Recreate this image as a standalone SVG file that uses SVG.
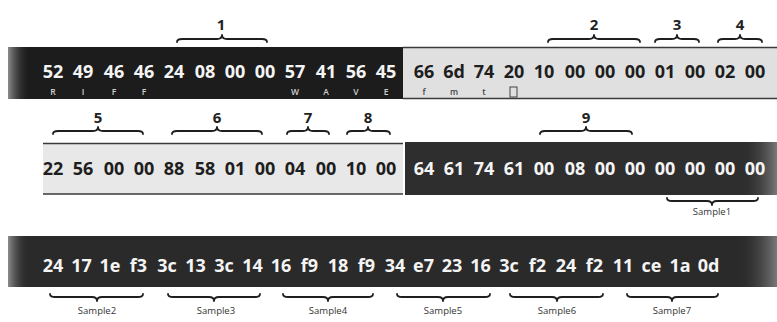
<svg xmlns="http://www.w3.org/2000/svg" width="777" height="322" viewBox="0 0 777 322">
<style>
text{font-family:"Open Sans","Liberation Sans",sans-serif;text-anchor:middle}
.hw{font-size:18px;font-weight:700;fill:#f4f4f4}
.hd{font-size:18px;font-weight:700;fill:#1e1e1e}
.smw{font-size:8.5px;font-weight:600;fill:#cfcfcf}
.smd{font-size:8.5px;font-weight:600;fill:#444}
.num{font-size:15px;font-weight:700;fill:#222}
.lab{font-size:9.5px;fill:#333}
.br{fill:none;stroke:#1e1e1e;stroke-width:1.8;stroke-linecap:round;stroke-linejoin:round}
.ln{stroke:#3a3a3a;stroke-width:1.5}
</style>
<defs>
<linearGradient id="gl" x1="0" y1="0" x2="1" y2="0">
<stop offset="0" stop-color="#8c8c8c"/><stop offset="1" stop-color="#1e1e1e" stop-opacity="0"/>
</linearGradient>
<linearGradient id="gr" x1="0" y1="0" x2="1" y2="0">
<stop offset="0" stop-color="#2e2e2e" stop-opacity="0"/><stop offset="1" stop-color="#7a7a7a"/>
</linearGradient>
</defs>
<rect width="777" height="322" fill="#ffffff"/>

<g id="row1">
<rect x="8" y="47" width="395" height="52" fill="#1c1c1c"/>
<rect x="8" y="47" width="22" height="52" fill="url(#gl)"/>
<rect x="403" y="47" width="374" height="52" fill="#e0e0e0"/>
<line class="ln" x1="403" y1="47.5" x2="777" y2="47.5"/>
<line class="ln" x1="403" y1="98.5" x2="777" y2="98.5"/>
<text class="hw" x="53" y="78">52</text><text class="hw" x="83" y="78">49</text><text class="hw" x="114" y="78">46</text><text class="hw" x="144" y="78">46</text>
<text class="hw" x="174" y="78">24</text><text class="hw" x="205" y="78">08</text><text class="hw" x="235" y="78">00</text><text class="hw" x="265" y="78">00</text>
<text class="hw" x="295" y="78">57</text><text class="hw" x="326" y="78">41</text><text class="hw" x="356" y="78">56</text><text class="hw" x="386" y="78">45</text>
<text class="hd" x="424" y="78">66</text><text class="hd" x="454" y="78">6d</text><text class="hd" x="484" y="78">74</text><text class="hd" x="514" y="78">20</text>
<text class="hd" x="544" y="78">10</text><text class="hd" x="575" y="78">00</text><text class="hd" x="605" y="78">00</text><text class="hd" x="635" y="78">00</text>
<text class="hd" x="665" y="78">01</text><text class="hd" x="695" y="78">00</text><text class="hd" x="725" y="78">02</text><text class="hd" x="755" y="78">00</text>
<text class="smw" x="53" y="95">R</text><text class="smw" x="83" y="95">I</text><text class="smw" x="114" y="95">F</text><text class="smw" x="144" y="95">F</text>
<text class="smw" x="295" y="95">W</text><text class="smw" x="326" y="95">A</text><text class="smw" x="356" y="95">V</text><text class="smw" x="386" y="95">E</text>
<text class="smd" x="424" y="95">f</text><text class="smd" x="454" y="95">m</text><text class="smd" x="484" y="95">t</text>
<rect x="510" y="87" width="7" height="10" fill="none" stroke="#444" stroke-width="1"/>
</g>

<g id="row2">
<rect x="43" y="143" width="360" height="51" fill="#e8e8e8"/>
<line class="ln" x1="43" y1="143.5" x2="403" y2="143.5"/>
<line class="ln" x1="43" y1="194" x2="403" y2="194"/>
<rect x="405" y="142" width="372" height="53" fill="#2e2e2e"/>
<rect x="742" y="142" width="35" height="53" fill="url(#gr)"/>
<text class="hd" x="53" y="175">22</text><text class="hd" x="83" y="175">56</text><text class="hd" x="114" y="175">00</text><text class="hd" x="144" y="175">00</text>
<text class="hd" x="174" y="175">88</text><text class="hd" x="205" y="175">58</text><text class="hd" x="235" y="175">01</text><text class="hd" x="265" y="175">00</text>
<text class="hd" x="295" y="175">04</text><text class="hd" x="326" y="175">00</text><text class="hd" x="356" y="175">10</text><text class="hd" x="386" y="175">00</text>
<text class="hw" x="424" y="175">64</text><text class="hw" x="454" y="175">61</text><text class="hw" x="484" y="175">74</text><text class="hw" x="514" y="175">61</text>
<text class="hw" x="544" y="175">00</text><text class="hw" x="575" y="175">08</text><text class="hw" x="605" y="175">00</text><text class="hw" x="635" y="175">00</text>
<text class="hw" x="665" y="175">00</text><text class="hw" x="695" y="175">00</text><text class="hw" x="725" y="175">00</text><text class="hw" x="755" y="175">00</text>
</g>

<g id="row3">
<rect x="8" y="236" width="769" height="51" fill="#2a2a2a"/>
<rect x="8" y="236" width="22" height="51" fill="url(#gl)"/>
<rect x="738" y="236" width="39" height="51" fill="url(#gr)"/>
<text class="hw" x="53" y="272">24</text><text class="hw" x="81.5" y="272">17</text><text class="hw" x="110" y="272">1e</text><text class="hw" x="138.5" y="272">f3</text>
<text class="hw" x="167" y="272">3c</text><text class="hw" x="195.5" y="272">13</text><text class="hw" x="224" y="272">3c</text><text class="hw" x="252.5" y="272">14</text>
<text class="hw" x="281" y="272">16</text><text class="hw" x="309.5" y="272">f9</text><text class="hw" x="338" y="272">18</text><text class="hw" x="366.5" y="272">f9</text>
<text class="hw" x="395" y="272">34</text><text class="hw" x="423.5" y="272">e7</text><text class="hw" x="452" y="272">23</text><text class="hw" x="480.5" y="272">16</text>
<text class="hw" x="509" y="272">3c</text><text class="hw" x="537.5" y="272">f2</text><text class="hw" x="566" y="272">24</text><text class="hw" x="594.5" y="272">f2</text>
<text class="hw" x="623" y="272">11</text><text class="hw" x="651.5" y="272">ce</text><text class="hw" x="680" y="272">1a</text><text class="hw" x="708.5" y="272">0d</text>
</g>

<g id="braces">
<path class="br" d="M177 42 Q177 39 182 39 L217 39 Q222 39 222 35 Q222 39 227 39 L262 39 Q267 39 267 42"/>
<path class="br" d="M548 42 Q548 39 553 39 L589 39 Q594 39 594 35 Q594 39 599 39 L635 39 Q640 39 640 42"/>
<path class="br" d="M655 42 Q655 39 660 39 L672 39 Q677 39 677 35 Q677 39 682 39 L694 39 Q699 39 699 42"/>
<path class="br" d="M718 42 Q718 39 723 39 L735 39 Q740 39 740 35 Q740 39 745 39 L757 39 Q762 39 762 42"/>
<path class="br" d="M53 134 Q53 131 58 131 L93 131 Q98 131 98 127 Q98 131 103 131 L138 131 Q143 131 143 134"/>
<path class="br" d="M172 134 Q172 131 177 131 L212 131 Q217 131 217 127 Q217 131 222 131 L257 131 Q262 131 262 134"/>
<path class="br" d="M287 134 Q287 131 292 131 L303 131 Q308 131 308 127 Q308 131 313 131 L324 131 Q329 131 329 134"/>
<path class="br" d="M347 134 Q347 131 352 131 L363 131 Q368 131 368 127 Q368 131 373 131 L385 131 Q390 131 390 134"/>
<path class="br" d="M540 134 Q540 131 545 131 L581 131 Q586 131 586 127 Q586 131 591 131 L627 131 Q632 131 632 134"/>
<path class="br" d="M667 198 Q667 201 672 201 L707 201 Q712 201 712 205 Q712 201 717 201 L753 201 Q758 201 758 198"/>
<path class="br" d="M50 294 Q50 297 55 297 L92 297 Q97 297 97 301 Q97 297 102 297 L138 297 Q143 297 143 294"/>
<path class="br" d="M168 294 Q168 297 173 297 L209 297 Q214 297 214 301 Q214 297 219 297 L255 297 Q260 297 260 294"/>
<path class="br" d="M283 294 Q283 297 288 297 L323 297 Q328 297 328 301 Q328 297 333 297 L368 297 Q373 297 373 294"/>
<path class="br" d="M397 294 Q397 297 402 297 L438 297 Q443 297 443 301 Q443 297 448 297 L485 297 Q490 297 490 294"/>
<path class="br" d="M510 294 Q510 297 515 297 L552 297 Q557 297 557 301 Q557 297 562 297 L598 297 Q603 297 603 294"/>
<path class="br" d="M627 294 Q627 297 632 297 L667 297 Q672 297 672 301 Q672 297 677 297 L713 297 Q718 297 718 294"/>
</g>

<g id="labels">
<text class="num" x="221" y="30">1</text>
<text class="num" x="594" y="30">2</text>
<text class="num" x="677" y="30">3</text>
<text class="num" x="740" y="30">4</text>
<text class="num" x="98" y="123">5</text>
<text class="num" x="217" y="123">6</text>
<text class="num" x="308" y="123">7</text>
<text class="num" x="368" y="123">8</text>
<text class="num" x="586" y="123">9</text>
<text class="lab" x="712" y="215">Sample1</text>
<text class="lab" x="97" y="314">Sample2</text>
<text class="lab" x="216" y="314">Sample3</text>
<text class="lab" x="328" y="314">Sample4</text>
<text class="lab" x="443" y="314">Sample5</text>
<text class="lab" x="557" y="314">Sample6</text>
<text class="lab" x="672" y="314">Sample7</text>
</g>
</svg>
